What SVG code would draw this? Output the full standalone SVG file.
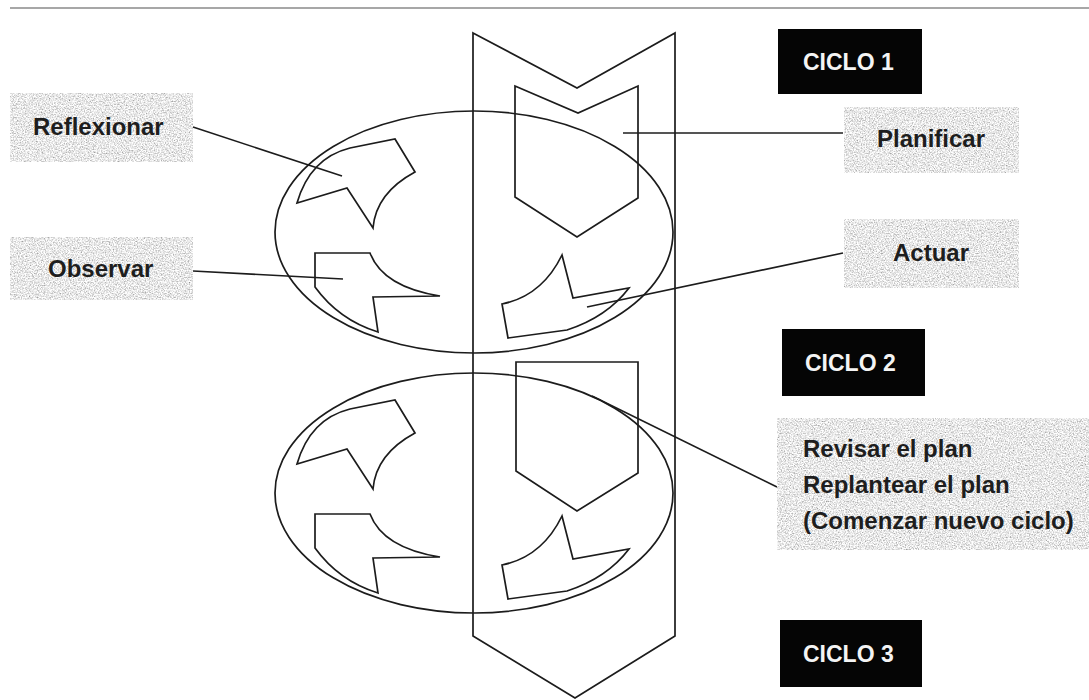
<svg xmlns="http://www.w3.org/2000/svg" width="1089" height="700" viewBox="0 0 1089 700">
  <style>
    .ln { fill: none; stroke: #1c1c1c; stroke-width: 1.7; stroke-linejoin: miter; }
    .con { fill: none; stroke: #1c1c1c; stroke-width: 1.6; }
    .lbl { font-family: "Liberation Sans", Arial, sans-serif; font-weight: bold; font-size: 24px; fill: #1e1e1e; }
    .cyc { font-family: "Liberation Sans", Arial, sans-serif; font-weight: bold; font-size: 23px; fill: #f4f4f4; }
    .box { fill: #d4d4d4; filter: url(#grain); }
    .blk { fill: #050505; }
  </style>
  <defs>
    <filter id="grain" x="0" y="0" width="100%" height="100%">
      <feTurbulence type="fractalNoise" baseFrequency="0.75" numOctaves="2" seed="7" result="n"/>
      <feColorMatrix in="n" type="matrix" values="1.3 0 0 0 0.16  1.3 0 0 0 0.16  1.3 0 0 0 0.16  0 0 0 0 1" result="g"/>
      <feComposite in="g" in2="SourceAlpha" operator="in"/>
    </filter>
    <g id="shapes">
      <path class="ln" d="M297,203 Q310,158 350,148 L395,139 L415,172 Q376,193 373,228 L347,188 Z"/>
      <path class="ln" d="M315,253 L370,253 Q383,287 440,296 L373,297 L378,332 Q339,320 315,287 Z"/>
      <path class="ln" d="M562,255 L573,298 L629,288 Q607,317 567,330 L508,338 L502,304 Q542,296 562,255 Z"/>
    </g>
  </defs>
  <rect width="1089" height="700" fill="#ffffff"/>
  <line x1="10" y1="8" x2="1089" y2="8" stroke="#8a8a8a" stroke-width="1.5"/>

  <g id="band">
    <polygon class="ln" points="473,33 577,88 675,33 675,636 575,698 473,636"/>
  </g>

  <g id="cycle1">
    <ellipse class="ln" cx="474" cy="232" rx="199" ry="121"/>
    <polygon class="ln" points="515,86 578,113 638,86 638,198 577,237 515,197"/>
    <use href="#shapes"/>
  </g>

  <g id="cycle2">
    <ellipse class="ln" cx="474" cy="493" rx="199" ry="120"/>
    <polygon class="ln" points="516,362 638,362 638,473 577,511 516,471"/>
    <use href="#shapes" transform="translate(0,261)"/>
  </g>

  <g id="connectors">
    <line class="con" x1="193" y1="127" x2="342" y2="176"/>
    <line class="con" x1="193" y1="271" x2="343" y2="279"/>
    <line class="con" x1="623" y1="133" x2="843" y2="133"/>
    <line class="con" x1="587" y1="307" x2="843" y2="253"/>
    <line class="con" x1="592" y1="396" x2="777" y2="487"/>
  </g>

  <g id="reflexionar">
    <rect class="box" x="10" y="93" width="183" height="69"/>
    <text class="lbl" x="33" y="135">Reflexionar</text>
  </g>
  <g id="observar">
    <rect class="box" x="10" y="237" width="183" height="63"/>
    <text class="lbl" x="48" y="277">Observar</text>
  </g>
  <g id="planificar">
    <rect class="box" x="844" y="107" width="175" height="66"/>
    <text class="lbl" x="877" y="147">Planificar</text>
  </g>
  <g id="actuar">
    <rect class="box" x="844" y="219" width="175" height="69"/>
    <text class="lbl" x="893" y="261">Actuar</text>
  </g>
  <g id="revisar">
    <rect class="box" x="777" y="418" width="312" height="132"/>
    <text class="lbl" font-size="23" x="803" y="457">Revisar el plan</text>
    <text class="lbl" font-size="23" x="803" y="493">Replantear el plan</text>
    <text class="lbl" font-size="23" x="803" y="529">(Comenzar nuevo ciclo)</text>
  </g>
  <g id="ciclo1">
    <rect class="blk" x="778" y="29" width="144" height="65"/>
    <text class="cyc" x="803" y="70">CICLO 1</text>
  </g>
  <g id="ciclo2">
    <rect class="blk" x="782" y="329" width="143" height="67"/>
    <text class="cyc" x="805" y="371">CICLO 2</text>
  </g>
  <g id="ciclo3">
    <rect class="blk" x="780" y="620" width="142" height="67"/>
    <text class="cyc" x="803" y="662">CICLO 3</text>
  </g>
</svg>
